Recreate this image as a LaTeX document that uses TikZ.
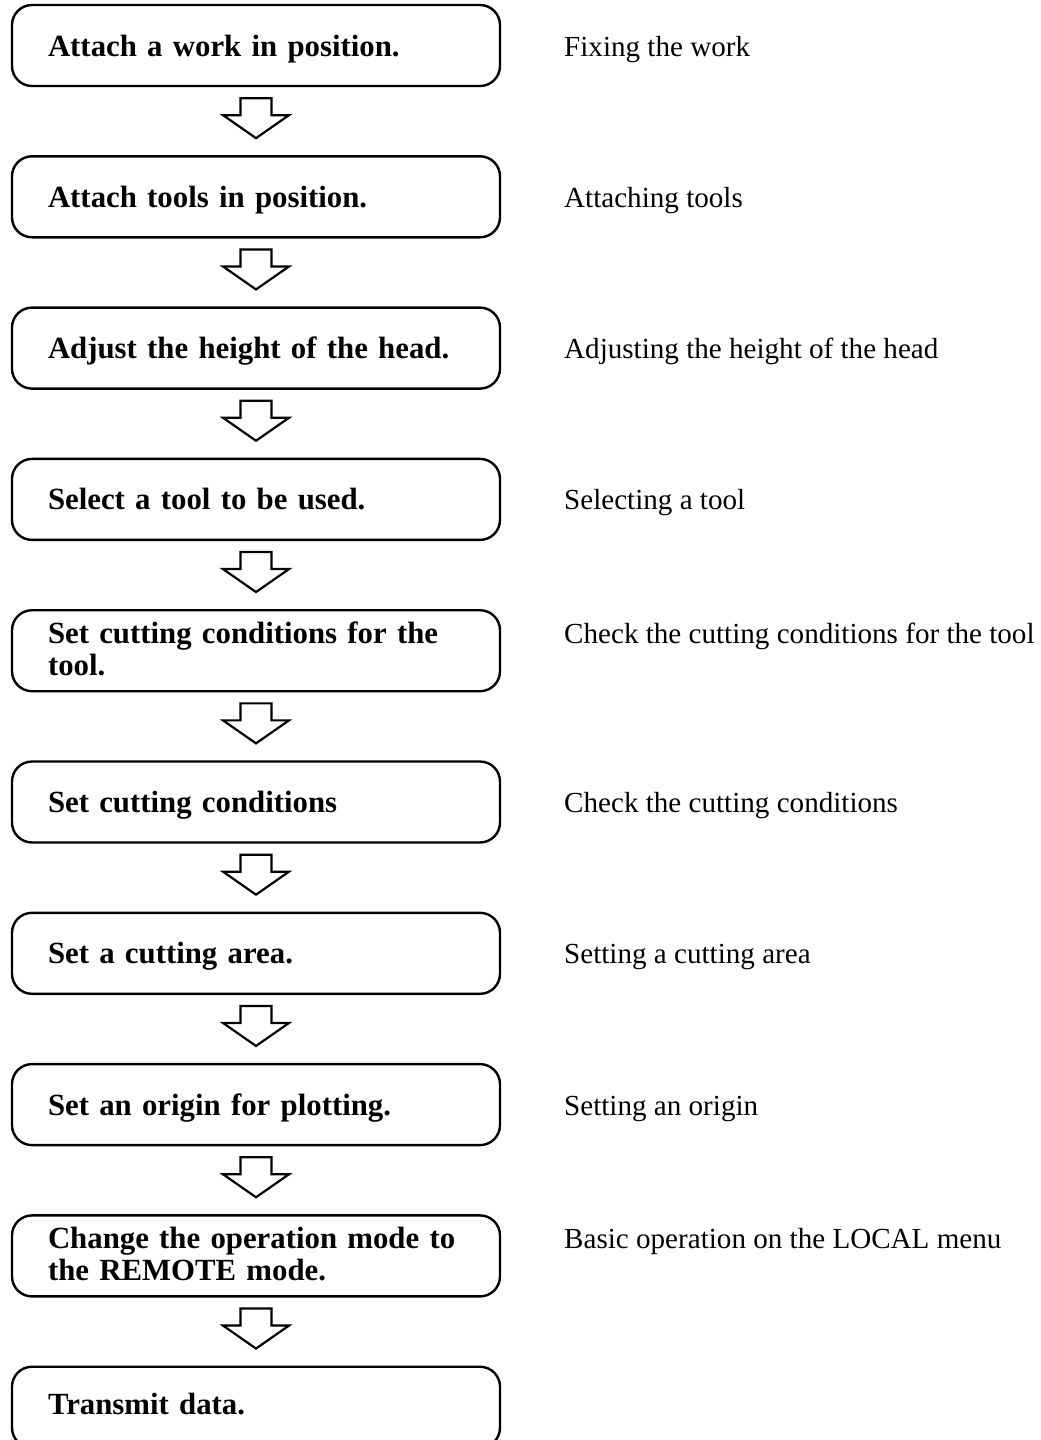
\documentclass[tikz,border=0pt]{standalone}
\usepackage{fontspec}
\setmainfont{Liberation Serif}
\usetikzlibrary{positioning,calc}

\begin{document}
\begin{tikzpicture}[x=1pt, y=1pt,
		node distance=70.3pt,
		stepbox/.style={
			draw,
			rectangle,
			rounded corners=20pt,
			line width=2.4pt,
			outer sep=0pt,
			minimum width=488pt,
			text width=416pt,
			align=left,
			inner xsep=36pt,
			inner ysep=0pt,
			text height=51pt,
			text depth=30pt,
			font=\fontsize{30.8}{32}\selectfont\bfseries
		},
		twoline/.style={text height=33pt, text depth=48pt},
		notelabel/.style={anchor=base west, inner sep=0pt, font=\fontsize{29.1}{32}\selectfont},
		blockarrow/.style={draw, line width=2.2pt, fill=white, line join=miter}
		]
		
		\useasboundingbox (0,0) rectangle (1041,-1440);
		
		% --- Steps ---
		\node[stepbox] (s1) at (256,-45.5) {Attach a work in position.};
		\node[stepbox, below=of s1] (s2) {Attach tools in position.};
		\node[stepbox, below=of s2] (s3) {Adjust the height of the head.};
		\node[stepbox, below=of s3] (s4) {Select a tool to be used.};
		\node[stepbox, twoline, below=of s4] (s5) {Set cutting conditions for the\\tool.};
		\node[stepbox, below=of s5] (s6) {Set cutting conditions};
		\node[stepbox, below=of s6] (s7) {Set a cutting area.};
		\node[stepbox, below=of s7] (s8) {Set an origin for plotting.};
		\node[stepbox, twoline, below=of s8] (s9) {Change the operation mode to\\the REMOTE mode.};
		\node[stepbox, text height=48pt, text depth=33pt, below=of s9] (s10) {Transmit data.};
		
		% --- Notes on the right ---
		\node[notelabel] (n1) at ([xshift=64pt]s1.base east) {Fixing the work};
		\node[notelabel] (n2) at ([xshift=64pt]s2.base east) {Attaching tools};
		\node[notelabel] (n3) at ([xshift=64pt]s3.base east) {Adjusting the height of the head};
		\node[notelabel] (n4) at ([xshift=64pt]s4.base east) {Selecting a tool};
		\node[notelabel] (n5) at ([xshift=64pt]s5.base east) {Check the cutting conditions for the tool};
		\node[notelabel] (n6) at ([xshift=64pt]s6.base east) {Check the cutting conditions};
		\node[notelabel] (n7) at ([xshift=64pt]s7.base east) {Setting a cutting area};
		\node[notelabel] (n8) at ([xshift=64pt]s8.base east) {Setting an origin};
		\node[notelabel] (n9) at ([xshift=64pt]s9.base east) {Basic operation on the LOCAL menu};
		
		% --- Hollow arrows between steps ---
		\foreach \a/\b in {s1/s2, s2/s3, s3/s4, s4/s5, s5/s6, s6/s7, s7/s8, s8/s9, s9/s10}{
			\coordinate (m) at ($(\a.south)!0.5!(\b.north)$);
			\draw[blockarrow] ($(m)+(-15.5,23)$) -- ($(m)+(15.5,23)$) -- ($(m)+(15.5,6)$)
				-- ($(m)+(33,6)$) -- ($(m)+(0,-17)$) -- ($(m)+(-33,6)$)
				-- ($(m)+(-15.5,6)$) -- cycle;
		}
		
	\end{tikzpicture}
\end{document}
